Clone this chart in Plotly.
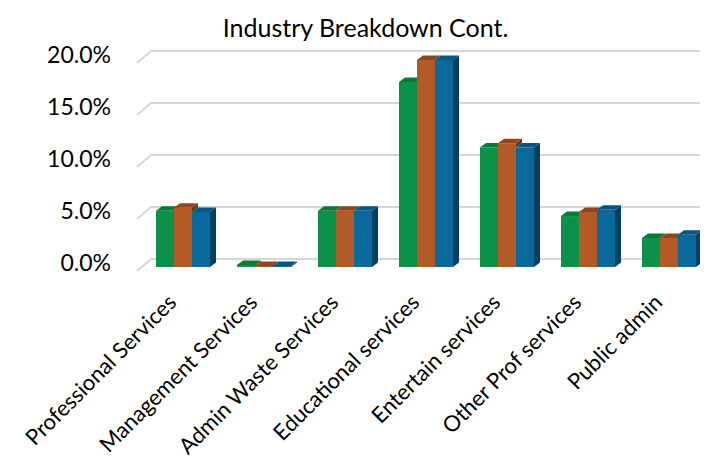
import plotly.graph_objects as go

# ---- data ----
categories = ["Professional Services", "Management Services", "Admin Waste Services",
              "Educational services", "Entertain services", "Other Prof services", "Public admin"]
series_1 = [5.4, 0.2, 5.4, 17.8, 11.5, 4.9, 2.8]
series_2 = [5.7, 0.1, 5.4, 19.9, 11.9, 5.3, 2.8]
series_3 = [5.3, 0.1, 5.4, 19.9, 11.5, 5.5, 3.1]
series_names = ["Series 1", "Series 2", "Series 3"]
tick_values = [0, 5, 10, 15, 20]

# ---- styling ----
front_colors = ["#0C9148", "#B45A27", "#09699D"]
top_colors = ["#0A7A3B", "#8F4720", "#0A5682"]
side_colors = ["#07582C", "#6E3616", "#053F61"]
W, H = 708, 457
L, R, T, B = 128, 708, 35, 268
PX_X = 81.0       # pixels per category
PX_Y = 10.4       # pixels per percent
BASE_PX = 259     # pixel row of 0%
CAT0_PX = 175     # pixel column of first category centre

xr = [(L - CAT0_PX) / PX_X, (R - CAT0_PX) / PX_X]
yr = [-(B - BASE_PX) / PX_Y, (BASE_PX - T) / PX_Y]

bw = 18 / PX_X          # bar width in category units
ddx = 6 / PX_X          # depth offset x
ddy = 4.5 / PX_Y        # depth offset y

series = [series_1, series_2, series_3]
n = len(categories)

fig = go.Figure()

# front faces as bars
for s, vals in enumerate(series):
    fig.add_trace(go.Bar(
        x=[k + (s - 1) * bw for k in range(n)], y=vals, width=bw,
        marker=dict(color=front_colors[s], line=dict(width=0)),
        name=series_names[s], showlegend=False, customdata=categories,
        hovertemplate="%{customdata}: %{y:.1f}%<extra></extra>",
    ))

# depth faces (top and visible side) as filled polygons
for k in range(n):
    for s in range(3):
        v = series[s][k]
        x0 = k + (s - 1) * bw - bw / 2
        x1 = x0 + bw
        nxt = series[s + 1][k] if s < 2 else None
        # top face, clipped against the next bar's front face
        h = v if nxt is None else min(max(nxt, v), v + ddy)
        xs = [x0, x1, x1, x1 + ddx * (h - v) / ddy, x1 + ddx, x0 + ddx, x0]
        ys = [v, v, h, h, v + ddy, v + ddy, v]
        fig.add_trace(go.Scatter(x=xs, y=ys, mode="lines", fill="toself",
                                 fillcolor=top_colors[s], line=dict(width=0),
                                 hoverinfo="skip", showlegend=False))
        # right side face (only the part not hidden by the next bar)
        if nxt is None:
            xs = [x1, x1, x1 + ddx, x1 + ddx, x1]
            ys = [0, v, v + ddy, ddy, 0]
        elif v > nxt:
            xs = [x1, x1, x1 + ddx, x1 + ddx, x1]
            ys = [nxt, v, v + ddy, nxt + ddy, nxt]
        else:
            continue
        fig.add_trace(go.Scatter(x=xs, y=ys, mode="lines", fill="toself",
                                 fillcolor=side_colors[s], line=dict(width=0),
                                 hoverinfo="skip", showlegend=False))

# back-wall gridlines with their perspective stubs
shapes = []
sx0 = (129 - CAT0_PX) / PX_X
sx1 = (143 - CAT0_PX) / PX_X
sx2 = (707 - CAT0_PX) / PX_X
for v in tick_values:
    ya = v - 4 / PX_Y
    yb = v + 8 / PX_Y
    shapes.append(dict(type="path", xref="x", yref="y", layer="below",
                       path=f"M {sx0} {ya} L {sx1} {yb} L {sx2} {yb}",
                       line=dict(color="#D6D6D6", width=1.8)))

fig.update_layout(
    width=W, height=H,
    margin=dict(l=L, r=W - R, t=T, b=H - B, autoexpand=False),
    paper_bgcolor="white", plot_bgcolor="white",
    barmode="overlay",
    shapes=shapes,
    title=dict(text="Industry Breakdown Cont.", x=0.505, xanchor="center",
               y=1 - 20 / H, yanchor="middle",
               font=dict(family="Lato", size=25, color="#000000")),
    font=dict(family="Lato", color="#000000"),
    xaxis=dict(range=xr, tickmode="array", tickvals=list(range(n)), ticktext=categories,
               tickangle=-45, showgrid=False, zeroline=False, showline=False,
               automargin=False,
               ticks="", ticklabelstandoff=8, ticklabelshift=-13,
               tickfont=dict(size=22, family="Lato")),
    yaxis=dict(range=yr, tickmode="array", tickvals=tick_values,
               ticktext=[f"{v:.1f}%" for v in tick_values],
               showgrid=False, zeroline=False, showline=False, ticks="",
               automargin=False,
               ticklabelstandoff=24, ticklabelshift=-4,
               tickfont=dict(size=23, family="Lato")),
)

fig.write_html("out.html")
